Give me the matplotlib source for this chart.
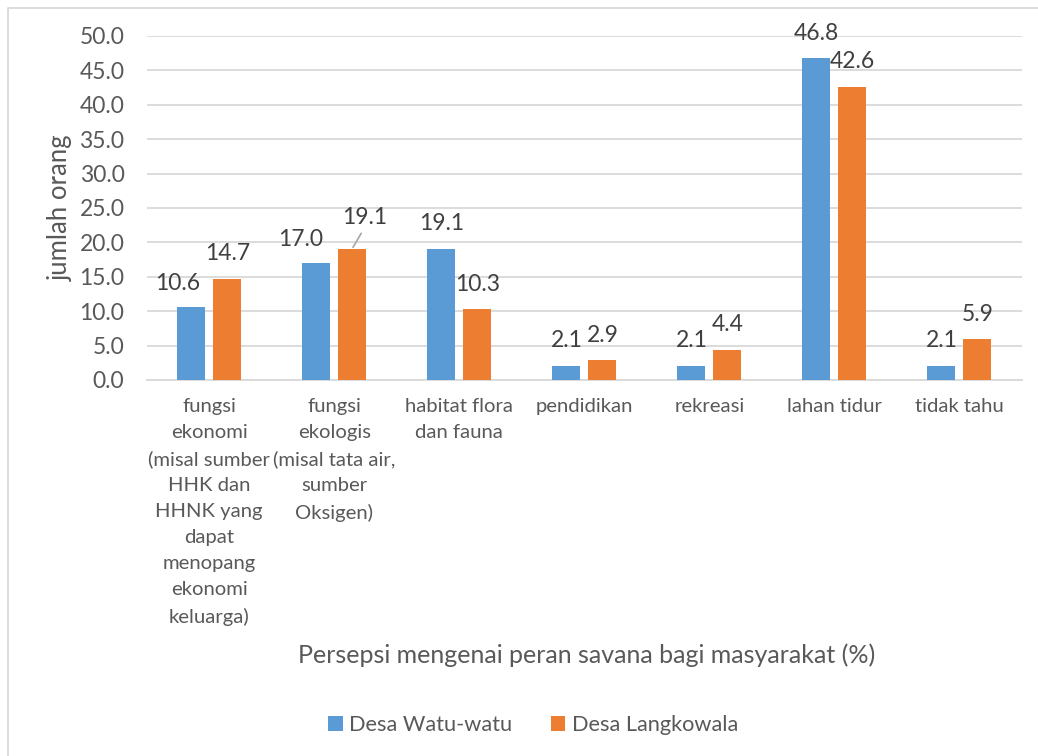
import matplotlib
matplotlib.use("Agg")
import matplotlib.pyplot as plt
import numpy as np
from matplotlib.lines import Line2D

categories = [
    "fungsi\nekonomi\n(misal sumber\nHHK dan\nHHNK yang\ndapat\nmenopang\nekonomi\nkeluarga)",
    "fungsi\nekologis\n(misal tata air,\nsumber\nOksigen)",
    "habitat flora\ndan fauna",
    "pendidikan",
    "rekreasi",
    "lahan tidur",
    "tidak tahu",
]
watu = [10.6, 17.0, 19.1, 2.1, 2.1, 46.8, 2.1]
langkowala = [14.7, 19.1, 10.3, 2.9, 4.4, 42.6, 5.9]
series_names = ["Desa Watu-watu", "Desa Langkowala"]
yticks = [0, 5, 10, 15, 20, 25, 30, 35, 40, 45, 50]

plt.rcParams['font.family'] = ['Lato', 'DejaVu Sans']

W, H = 1038, 756
fig = plt.figure(figsize=(W / 100, H / 100), dpi=100)
ax = fig.add_axes([146.7 / W, 1 - 380 / H, (1022 - 146.7) / W, (380 - 36) / H])

blue = "#5B9BD5"
orange = "#ED7D31"
tcol = "#595959"
lcol = "#404040"
grid = "#D9D9D9"
fs = 16.5

x = np.arange(len(categories))
bw = 0.224
off = 0.144
b1 = ax.bar(x - off, watu, bw, color=blue, label=series_names[0], zorder=3)
b2 = ax.bar(x + off, langkowala, bw, color=orange, label=series_names[1], zorder=3)

ax.set_xlim(-0.5, len(categories) - 0.5)
ax.set_ylim(0, 50)
ax.set_yticks(yticks)
ax.set_yticklabels([f"{v:.1f}" for v in yticks])
ax.yaxis.grid(True, color=grid, lw=1.3, zorder=0)
ax.set_axisbelow(True)
for s in ["left", "right", "top"]:
    ax.spines[s].set_visible(False)
ax.spines["bottom"].set_color(grid)
ax.spines["bottom"].set_linewidth(1.3)
ax.tick_params(axis="both", length=0, colors=tcol, labelsize=fs)
ax.tick_params(axis="y", pad=16)
ax.tick_params(axis="x", pad=13, labelsize=14.6)
ax.set_xticks(x)
ax.set_xticklabels(categories, linespacing=1.64, color=tcol)

# data labels (pixel offsets)
lab_off_w = [(-14, 24), (-16, 24), (0, 25), (0, 25), (0, 25), (0, 25), (0, 25)]
lab_off_l = [(0, 25), (12, 31), (0, 25), (0, 25), (0, 25), (0, 25), (0, 25)]
for i in range(len(categories)):
    ax.annotate(f"{watu[i]:.1f}", xy=(x[i] - off, watu[i]), xytext=lab_off_w[i],
                textcoords="offset pixels", ha="center", va="center",
                fontsize=fs, color=lcol, zorder=4)
    if i == 1:
        ax.annotate(f"{langkowala[i]:.1f}", xy=(x[i] + off, langkowala[i]),
                    xytext=lab_off_l[i], textcoords="offset pixels",
                    ha="center", va="center", fontsize=fs, color=lcol, zorder=4,
                    arrowprops=dict(arrowstyle="-", color="#A6A6A6", lw=1.2,
                                    relpos=(0.5, 0), shrinkA=2, shrinkB=1))
    else:
        ax.annotate(f"{langkowala[i]:.1f}", xy=(x[i] + off, langkowala[i]),
                    xytext=lab_off_l[i], textcoords="offset pixels",
                    ha="center", va="center", fontsize=fs, color=lcol, zorder=4)

ax.set_ylabel("jumlah orang", fontsize=18.5, color=tcol)
ax.yaxis.set_label_coords((60 - 146.7) / (1022 - 146.7), 0.5)
ax.yaxis.label.set_verticalalignment("center")
ax.set_xlabel("Persepsi mengenai peran savana bagi masyarakat (%)", fontsize=18,
              color=tcol, va="center")
ax.xaxis.set_label_coords(0.5025, (380 - 655) / (380 - 36))

leg = fig.legend(handles=[b1, b2], labels=series_names, loc="center",
                 bbox_to_anchor=(533 / W, 1 - 725 / H), ncol=2, frameon=False,
                 fontsize=15.7, handlelength=0.68, handleheight=0.68,
                 handletextpad=0.3, columnspacing=1.75, labelcolor=tcol)

# chart border (left and top visible)
fig.add_artist(Line2D([7.5 / W, 7.5 / W, 1.0], [0.0, 1 - 7.5 / H, 1 - 7.5 / H],
                      transform=fig.transFigure, color=grid, lw=1.3))

fig.savefig("out.png", dpi=100)
